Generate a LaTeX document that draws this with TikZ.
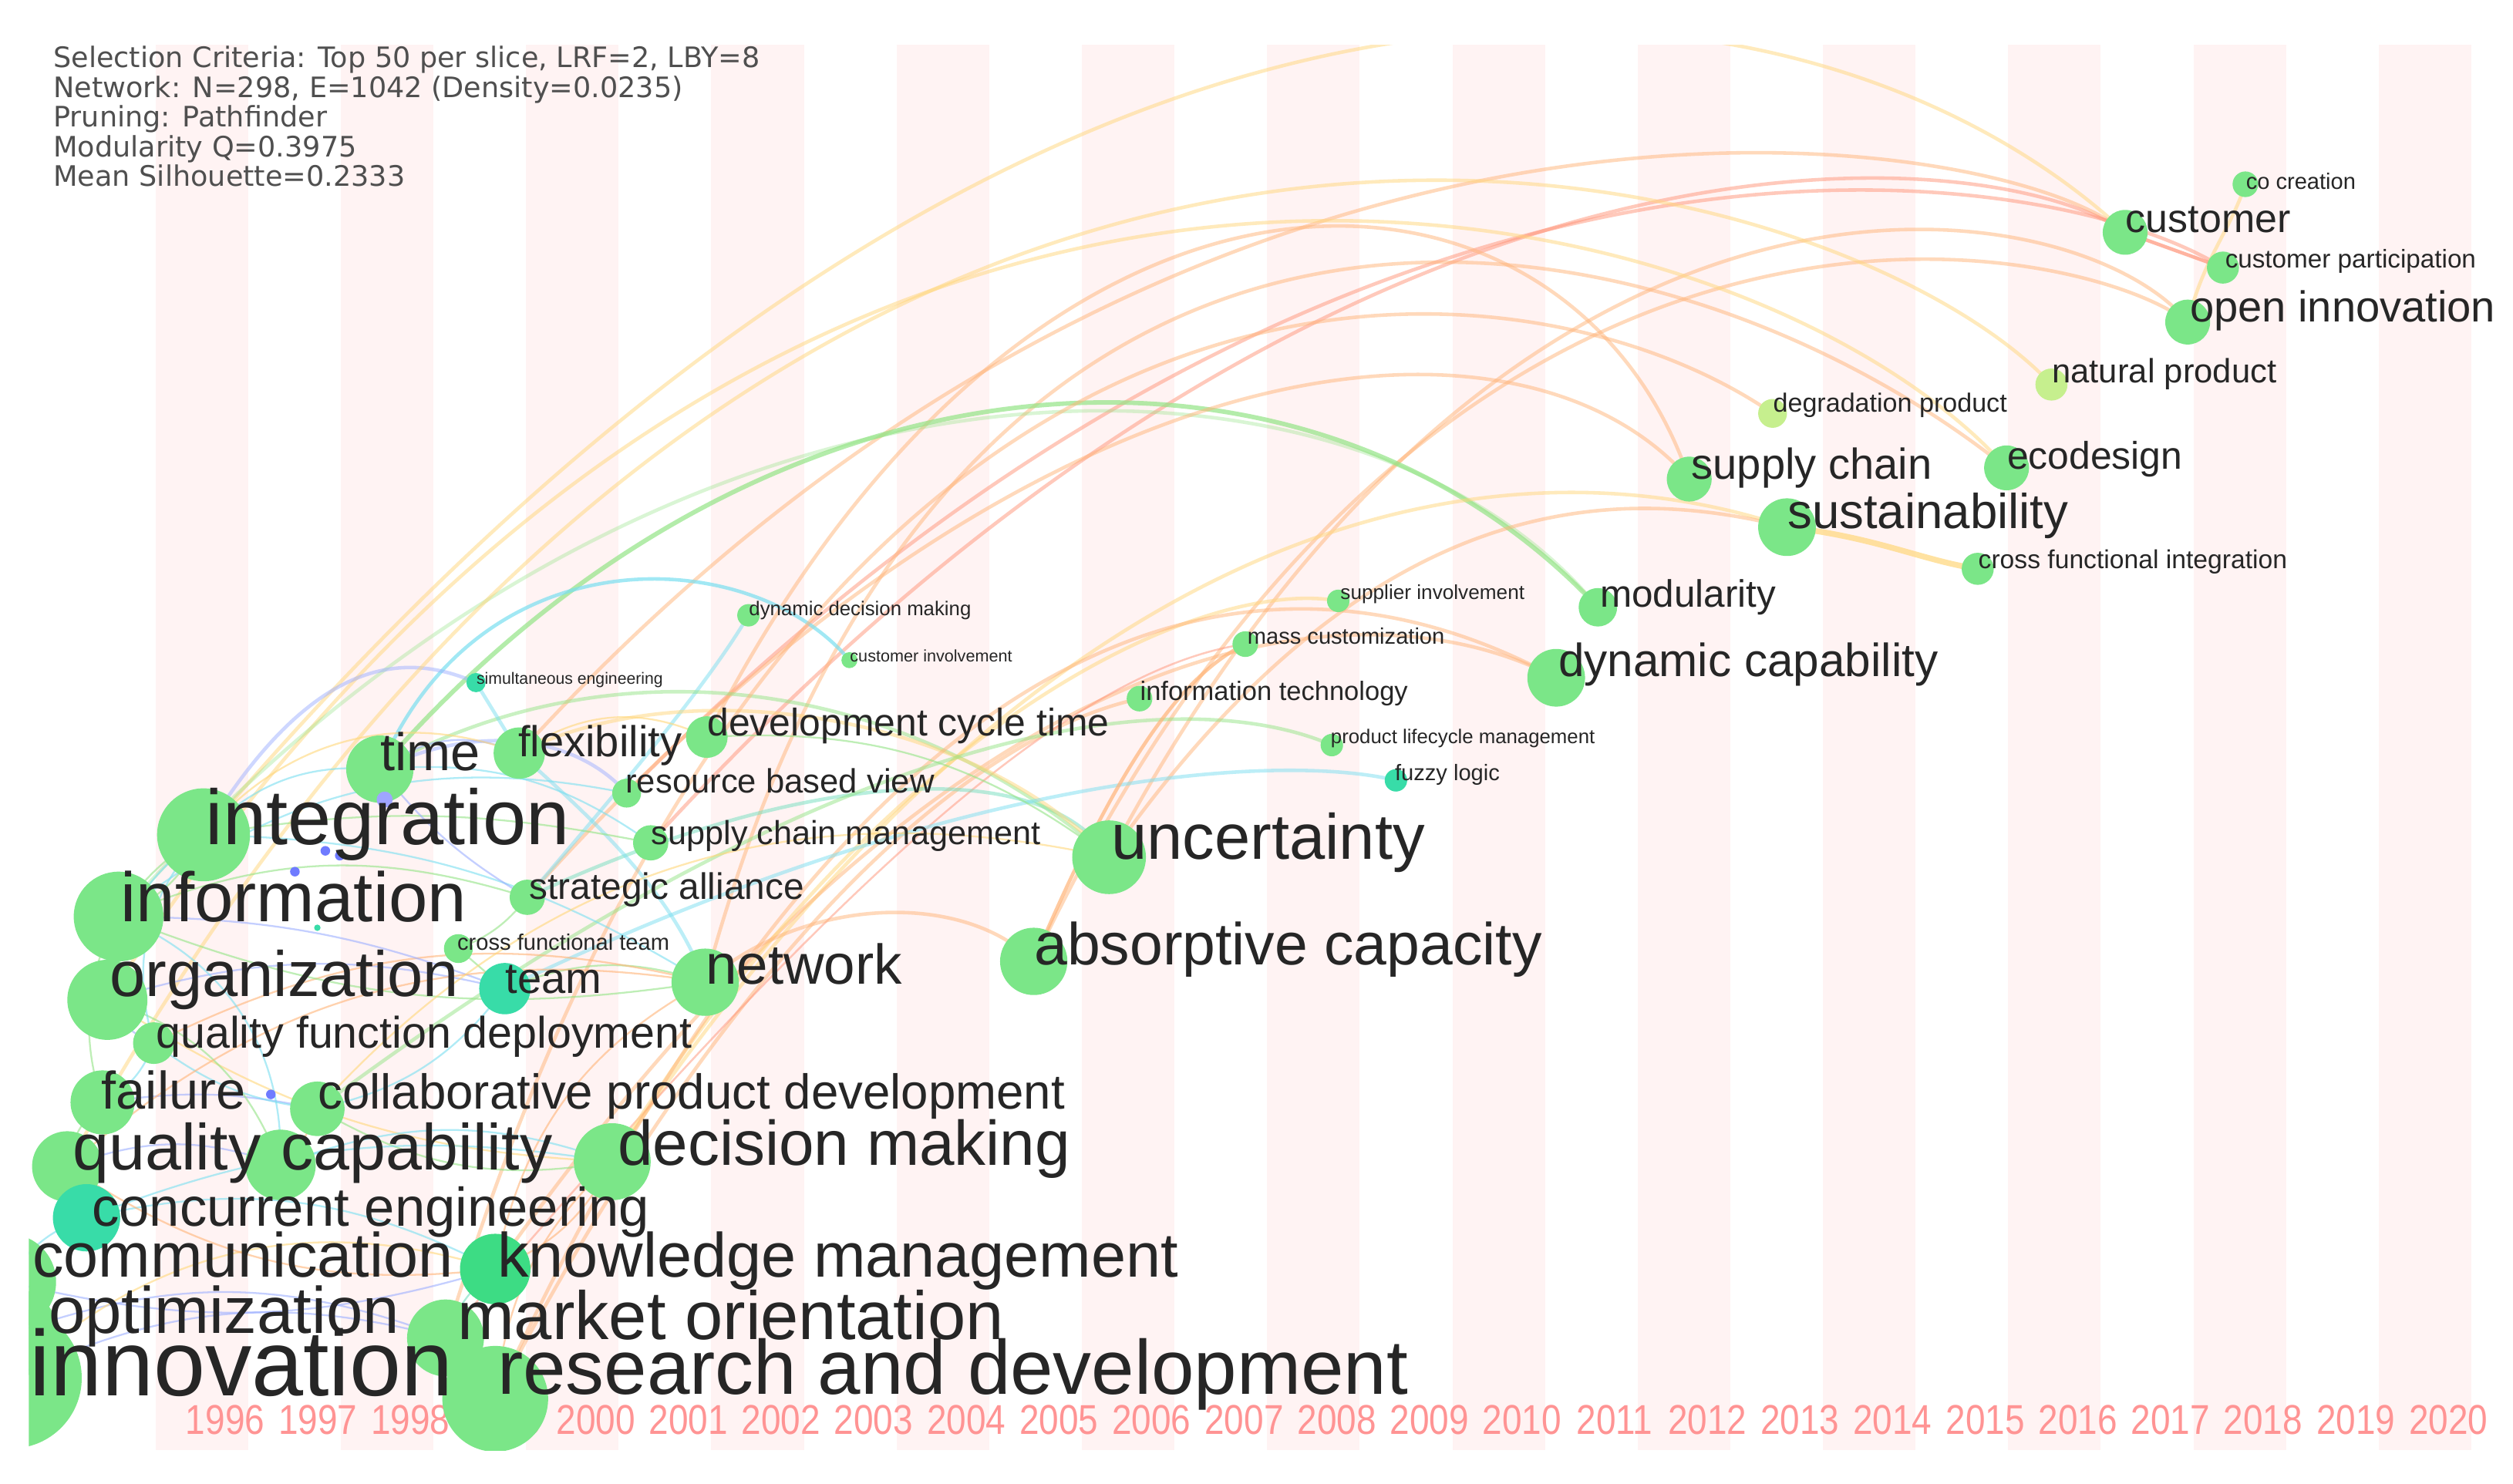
\documentclass[tikz,border=0pt]{standalone}
\usepackage{fontspec}
\setmainfont{Liberation Sans}
\newfontfamily\yearfont{Liberation Sans}[FakeStretch=0.85]
\newfontfamily\hdrfont{DejaVu Sans}
\definecolor{stripe}{HTML}{FFF3F3}
\definecolor{yearc}{HTML}{FF9494}
\definecolor{labc}{HTML}{262626}
\definecolor{hdrc}{HTML}{4F4F4F}
\definecolor{ngreen}{HTML}{7BE688}
\definecolor{nteal}{HTML}{38DCA8}
\definecolor{nkm}{HTML}{3DDC84}
\definecolor{nyg}{HTML}{C6EF8E}
\definecolor{cY}{HTML}{FFD77A}
\definecolor{cO}{HTML}{FFB478}
\definecolor{cR}{HTML}{FF9478}
\definecolor{cG}{HTML}{94E486}
\definecolor{cC}{HTML}{7ADFF0}
\definecolor{cB}{HTML}{9EB0FF}
\definecolor{cT}{HTML}{72DFBE}
\begin{document}
\begin{tikzpicture}[x=0.5pt,y=-0.5pt,
  nd/.style={circle, inner sep=0pt, minimum size=#1pt, fill=ngreen},
  lab/.style={anchor=base west, inner sep=0pt, text=labc, font=\fontsize{#1}{#1}\selectfont},
  yr/.style={anchor=center, inner sep=0pt, text=yearc, font=\yearfont\fontsize{13}{13}\selectfont},
  lnbase/.style={line width=1.1pt, opacity=0.5},
  thin/.style={line width=0.55pt, opacity=0.6},
  lny/.style={lnbase, draw=cY},
  lno/.style={lnbase, draw=cO},
  lnr/.style={lnbase, draw=cR},
  lng/.style={lnbase, draw=cG},
  lnc/.style={lnbase, draw=cC},
  lnb/.style={lnbase, draw=cB},
  lnt/.style={lnbase, draw=cT},
  tny/.style={thin, draw=cY},
  tno/.style={thin, draw=cO},
  tng/.style={thin, draw=cG},
  tnc/.style={thin, draw=cC},
  tnb/.style={thin, draw=cB},
  tnt/.style={thin, draw=cT}]
\useasboundingbox (0,0) rectangle (1568,926);
\fill[white] (0,0) rectangle (1568,926);
% node centres
\coordinate (cc) at (1401,115);
\coordinate (cu) at (1326,145);
\coordinate (cp) at (1387,167);
\coordinate (oi) at (1365,201);
\coordinate (np) at (1280,240);
\coordinate (dp) at (1106,258);
\coordinate (sc) at (1054,299);
\coordinate (ec) at (1252,292);
\coordinate (su) at (1115,329);
\coordinate (cfi) at (1234,355);
\coordinate (mo) at (997,379);
\coordinate (si) at (835,375);
\coordinate (mc) at (777,402);
\coordinate (dc) at (971,423);
\coordinate (it) at (711,436);
\coordinate (plm) at (831,465);
\coordinate (fl) at (871,487);
\coordinate (ddm) at (467,384);
\coordinate (ci) at (530,412);
\coordinate (se) at (297,426);
\coordinate (dct) at (441,460);
\coordinate (fx) at (324,470);
\coordinate (ti) at (237,480);
\coordinate (rbv) at (391,495);
\coordinate (ig) at (127,521);
\coordinate (scm) at (406,526);
\coordinate (un) at (692,535);
\coordinate (inf) at (74,572);
\coordinate (sa) at (329,560);
\coordinate (cft) at (286,592);
\coordinate (ac) at (645,600);
\coordinate (org) at (67,624);
\coordinate (tm) at (315,617);
\coordinate (nw) at (440,613);
\coordinate (qfd) at (96,651);
\coordinate (fa) at (64,688);
\coordinate (cpd) at (198,692);
\coordinate (ql) at (42,728);
\coordinate (cap) at (175,727);
\coordinate (dm) at (382,725);
\coordinate (ce) at (54,760);
\coordinate (com) at (5,800);
\coordinate (km) at (309,792);
\coordinate (opt) at (8,832);
\coordinate (mor) at (278,835);
\coordinate (inn) at (7,860);
\coordinate (rd) at (309,873);
\begin{scope}
\clip (18,28) rectangle (1568,905);
% stripes
\foreach \k in {0,...,12} \fill[stripe] ({97+115.6*\k},28) rectangle ++(57.8,877);
% year labels
\foreach \yv [count=\k from 0] in {1996,...,2020}
  \node[yr] (yr\yv) at ({140.5+57.8*\k},886) {\yv};
% long arcs
\draw[lny] (ig) .. controls (680,-130) and (1150,-20) .. (cu);
\draw[lno] (fx) .. controls (750,0) and (1250,80) .. (cu);
\draw[lnr] (rbv) .. controls (850,30) and (1280,100) .. (cp);
\draw[lnr] (scm) .. controls (850,40) and (1250,90) .. (cu);
\draw[lno] (dct) .. controls (650,50) and (980,80) .. (sc);
\draw[lno] (un) .. controls (950,50) and (1300,120) .. (oi);
\draw[lno] (ac) .. controls (900,60) and (1300,150) .. (oi);
\draw[lno] (nw) .. controls (600,20) and (1050,130) .. (ec);
\draw[lny] (org) .. controls (500,-50) and (1100,120) .. (ec);
\draw[lng, line width=1.4pt, opacity=0.7] (ti) .. controls (480,200) and (820,190) .. (mo);
\draw[lng, opacity=0.35] (inf) .. controls (420,180) and (850,200) .. (mo);
\draw[lno] (sa) .. controls (650,200) and (950,180) .. (sc);
\draw[lny] (dm) .. controls (700,250) and (1000,290) .. (su);
\draw[lno] (un) .. controls (850,310) and (1000,300) .. (su);
\draw[lny, line width=1.8pt, opacity=0.7] (su) .. controls (1170,335) and (1200,350) .. (cfi);
\draw[lno] (km) .. controls (600,380) and (850,360) .. (dc);
\draw[lny] (oi) .. controls +(10,-40) and +(-10,30) .. (cc);
\draw[lnr, opacity=0.7] (cu) -- (cp);
\draw[lno] (rd) .. controls (450,600) and (600,460) .. (it);
\draw[lnr, line width=0.6pt] (mor) .. controls (480,600) and (650,420) .. (mc);
\draw[lny] (dm) .. controls (550,450) and (750,360) .. (si);
\draw[lno] (nw) .. controls (500,560) and (600,555) .. (ac);
\draw[lnt] (sa) .. controls (500,480) and (650,470) .. (un);
\draw[lnc, opacity=0.7] (ti) .. controls (300,330) and (470,340) .. (ci);
\draw[lnc] (ddm) .. controls (440,430) and (380,500) .. (sa);
\draw[lng] (ti) .. controls (380,400) and (560,420) .. (un);
\draw[lny] (fx) .. controls (420,420) and (600,440) .. (un);
\draw[lnb] (ig) .. controls (200,400) and (260,410) .. (se);
\draw[lnc] (se) -- (fx);
\draw[lnb] (ti) .. controls (300,450) and (360,460) .. (rbv);
\draw[lnc] (fx) .. controls (380,520) and (420,560) .. (nw);
\draw[lny] (ql) .. controls (500,-100) and (1150,100) .. (np);
\draw[lno] (mor) .. controls (500,100) and (950,150) .. (dp);
\draw[lno] (rd) .. controls (550,350) and (800,330) .. (dc);
\draw[lng] (cpd) .. controls (550,430) and (750,430) .. (plm);
\draw[lnc] (tm) .. controls (600,480) and (800,470) .. (fl);
\draw[lno, opacity=0.7] (ac) .. controls (700,470) and (740,420) .. (mc);
% dense web
\draw[tng] (ig) to[bend left=20] (inf);
\draw[tnc] (ig) to[bend right=25] (org);
\draw[tng] (inf) to[bend left=15] (org);
\draw[tnb] (org) to[bend right=20] (qfd);
\draw[tnc] (qfd) to[bend left=20] (fa);
\draw[tng] (fa) to[bend right=20] (ql);
\draw[tnt] (ql) to[bend left=20] (ce);
\draw[tnc] (ce) to[bend right=20] (com);
\draw[tng] (com) to[bend left=15] (opt);
\draw[tnb] (opt) to[bend right=25] (inn);
\draw[tnb] (inn) to[bend left=20] (mor);
\draw[tng] (rd) to[bend right=20] (mor);
\draw[tnt] (mor) to[bend left=15] (km);
\draw[tno] (km) to[bend right=20] (dm);
\draw[tng] (dm) to[bend left=20] (cpd);
\draw[tnc] (cpd) to[bend right=20] (tm);
\draw[tng] (tm) to[bend left=20] (nw);
\draw[tng] (tm) -- (cft);
\draw[tng] (inf) to[bend left=20] (sa);
\draw[tnc] (ig) to[bend left=25] (ti);
\draw[tnb] (ti) to[bend left=30] (fx);
\draw[tny] (ig) to[bend left=35] (fx);
\draw[tnb] (org) to[bend left=15] (tm);
\draw[tno] (cap) to[bend right=15] (cpd);
\draw[tnb] (fa) to[bend left=10] (cpd);
\draw[tnc] (ce) to[bend left=20] (km);
\draw[tnb] (com) to[bend right=15] (km);
\draw[tnb] (opt) to[bend left=20] (mor);
\draw[tny] (inn) to[bend left=30] (km);
\draw[tno] (qfd) to[bend left=20] (nw);
\draw[tnc] (ig) to[bend left=15] (nw);
\draw[tng] (inf) to[bend right=15] (nw);
\draw[tny] (org) to[bend right=15] (dm);
\draw[tno] (ql) to[bend right=20] (km);
\draw[tnc] (ce) to[bend left=15] (dm);
\draw[tno] (rd) to[bend left=20] (dm);
\draw[tno] (km) to[bend left=25] (nw);
\draw[tnc] (qfd) to[bend right=15] (cpd);
\draw[tnb] (inf) to[bend left=10] (tm);
\draw[tnc] (ti) to[bend left=20] (scm);
\draw[tng] (ig) to[bend left=10] (scm);
\draw[tny] (fx) to[bend left=30] (dct);
\draw[tng] (dct) to[bend left=20] (un);
\draw[tnc] (inf) to[bend left=25] (rbv);
\draw[tnb] (ql) to[bend left=20] (cap);
\draw[tnc] (cap) to[bend left=20] (dm);
\draw[tng] (org) to[bend left=25] (cap);
\draw[tnb] (inn) to[bend right=20] (com);
\draw[tnc] (ig) to[bend right=30] (qfd);
\draw[tnb] (ti) to[bend right=10] (sa);
\draw[tng] (sa) to[bend left=15] (cft);
\draw[tnc] (inf) to[bend left=35] (cap);
\draw[tno] (ql) to[bend left=25] (nw);
\draw[tny] (cpd) to[bend left=30] (un);
\draw[tng] (fa) to[bend left=40] (ig);
% circles
\node[nd=8] (n-cc) at (cc) {};
\node[nd=14] (n-cu) at (cu) {};
\node[nd=10] (n-cp) at (cp) {};
\node[nd=14] (n-oi) at (oi) {};
\node[nd=10, fill=nyg] (n-np) at (np) {};
\node[nd=9, fill=nyg] (n-dp) at (dp) {};
\node[nd=14] (n-sc) at (sc) {};
\node[nd=14] (n-ec) at (ec) {};
\node[nd=18] (n-su) at (su) {};
\node[nd=10] (n-cfi) at (cfi) {};
\node[nd=12] (n-mo) at (mo) {};
\node[nd=7] (n-si) at (si) {};
\node[nd=8] (n-mc) at (mc) {};
\node[nd=18] (n-dc) at (dc) {};
\node[nd=8] (n-it) at (it) {};
\node[nd=7] (n-plm) at (plm) {};
\node[nd=7, fill=nteal] (n-fl) at (fl) {};
\node[nd=7] (n-ddm) at (ddm) {};
\node[nd=5] (n-ci) at (ci) {};
\node[nd=6, fill=nteal] (n-se) at (se) {};
\node[nd=13] (n-dct) at (dct) {};
\node[nd=16] (n-fx) at (fx) {};
\node[nd=21] (n-ti) at (ti) {};
\node[nd=9] (n-rbv) at (rbv) {};
\node[nd=29] (n-ig) at (ig) {};
\node[nd=11] (n-scm) at (scm) {};
\node[nd=23] (n-un) at (un) {};
\node[nd=28] (n-inf) at (inf) {};
\node[nd=11] (n-sa) at (sa) {};
\node[nd=9] (n-cft) at (cft) {};
\node[nd=21] (n-ac) at (ac) {};
\node[nd=25] (n-org) at (org) {};
\node[nd=16, fill=nteal] (n-tm) at (tm) {};
\node[nd=21] (n-nw) at (nw) {};
\node[nd=13] (n-qfd) at (qfd) {};
\node[nd=20] (n-fa) at (fa) {};
\node[nd=17] (n-cpd) at (cpd) {};
\node[nd=22] (n-ql) at (ql) {};
\node[nd=22] (n-cap) at (cap) {};
\node[nd=24] (n-dm) at (dm) {};
\node[nd=21, fill=nteal] (n-ce) at (ce) {};
\node[nd=30] (n-com) at (com) {};
\node[nd=22, fill=nkm] (n-km) at (km) {};
\node[nd=28] (n-opt) at (opt) {};
\node[nd=24] (n-mor) at (mor) {};
\node[nd=44] (n-inn) at (inn) {};
\node[nd=33] (n-rd) at (rd) {};
% small dots
\node[nd=5, fill=cB!60!blue!60] (d1) at (240,499) {};
\node[nd=3, fill=cB!70!blue] (d2) at (203,531) {};
\node[nd=3, fill=cB!70!blue] (d3) at (184,544) {};
\node[nd=3, fill=cB!70!blue] (d4) at (212,534) {};
\node[nd=2, fill=nteal] (d5) at (198,579) {};
\node[nd=3, fill=cB!70!blue] (d6) at (169,683) {};
% labels
\node[lab=7] (l-cc) at (1401,118) {co creation};
\node[lab=12.5] (l-cu) at (1326,145) {customer};
\node[lab=8] (l-cp) at (1388,167) {customer participation};
\node[lab=13.5] (l-oi) at (1366,201) {open innovation};
\node[lab=10.5] (l-np) at (1280,239) {natural product};
\node[lab=8.2] (l-dp) at (1106,257) {degradation product};
\node[lab=13.5] (l-sc) at (1055,299) {supply chain};
\node[lab=12] (l-ec) at (1252,293) {ecodesign};
\node[lab=15.3] (l-su) at (1115,330) {sustainability};
\node[lab=8.1] (l-cfi) at (1234,355) {cross functional integration};
\node[lab=11.9] (l-mo) at (998,379) {modularity};
\node[lab=6.3] (l-si) at (836,374) {supplier involvement};
\node[lab=7] (l-mc) at (778,402) {mass customization};
\node[lab=14.5] (l-dc) at (972,422) {dynamic capability};
\node[lab=8.3] (l-it) at (711,437) {information technology};
\node[lab=6.2] (l-plm) at (830,464) {product lifecycle management};
\node[lab=7] (l-fl) at (870,487) {fuzzy logic};
\node[lab=6.2] (l-ddm) at (467,384) {dynamic decision making};
\node[lab=5.2] (l-ci) at (530,413) {customer involvement};
\node[lab=5.1] (l-se) at (297,427) {simultaneous engineering};
\node[lab=12] (l-dct) at (441,459) {development cycle time};
\node[lab=13.5] (l-fx) at (323,472) {flexibility};
\node[lab=16.5] (l-ti) at (237,481) {time};
\node[lab=10.5] (l-rbv) at (390,495) {resource based view};
\node[lab=24.3] (l-ig) at (128,527) {integration};
\node[lab=10.4] (l-scm) at (406,527) {supply chain management};
\node[lab=20] (l-un) at (693,536) {uncertainty};
\node[lab=21.8] (l-inf) at (75,575) {information};
\node[lab=11.5] (l-sa) at (330,561) {strategic alliance};
\node[lab=7] (l-cft) at (285,593) {cross functional team};
\node[lab=18.5] (l-ac) at (645,602) {absorptive capacity};
\node[lab=20] (l-org) at (68,622) {organization};
\node[lab=13.5] (l-tm) at (315,620) {team};
\node[lab=17.5] (l-nw) at (440,614) {network};
\node[lab=13.8] (l-qfd) at (97,654) {quality function deployment};
\node[lab=16.5] (l-fa) at (63,692) {failure};
\node[lab=15.3] (l-cpd) at (198,692) {collaborative product development};
\node[lab=20.3] (l-ql) at (45,730) {quality};
\node[lab=20.3] (l-cap) at (175,730) {capability};
\node[lab=19.7] (l-dm) at (385,727) {decision making};
\node[lab=17] (l-ce) at (57,765) {concurrent engineering};
\node[lab=19.5] (l-com) at (20,797) {communication};
\node[lab=19.5] (l-km) at (310,797) {knowledge management};
\node[lab=20.5] (l-opt) at (30,832) {optimization};
\node[lab=21.3] (l-mor) at (285,836) {market orientation};
\node[lab=29] (l-inn) at (18,871) {innovation};
\node[lab=24] (l-rd) at (310,870) {research and development};
\end{scope}
% header
\node[anchor=north west, inner sep=0pt, align=left, text=hdrc,
  font=\hdrfont\fontsize{8.8}{9.25}\selectfont] (hdr) at (33,28.5)
  {Selection Criteria: Top 50 per slice, LRF=2, LBY=8\\
   Network: N=298, E=1042 (Density=0.0235)\\
   Pruning: Pathfinder\\
   Modularity Q=0.3975\\
   Mean Silhouette=0.2333};
\end{tikzpicture}
\end{document}
